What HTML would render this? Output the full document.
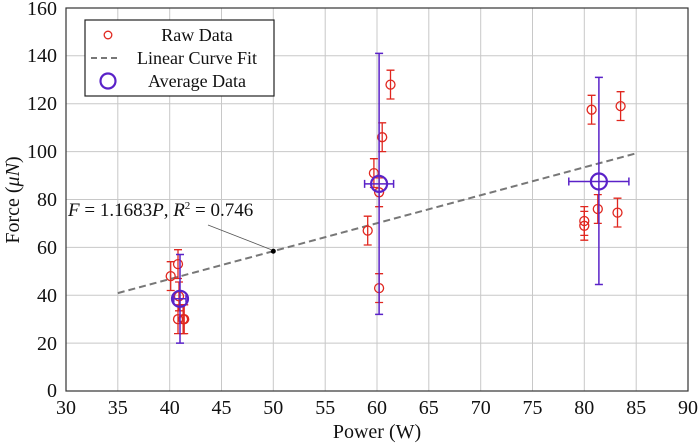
<!DOCTYPE html>
<html><head><meta charset="utf-8"><style>
body{margin:0;background:#fff}
svg{display:block}
text{font-family:"Liberation Serif",serif;fill:#111}
</style></head><body>
<svg width="700" height="443" viewBox="0 0 700 443" xmlns="http://www.w3.org/2000/svg">
<g stroke="#c8c8c8" stroke-width="1">
<line x1="117.8" y1="8" x2="117.8" y2="391"/><line x1="169.7" y1="8" x2="169.7" y2="391"/><line x1="221.5" y1="8" x2="221.5" y2="391"/><line x1="273.3" y1="8" x2="273.3" y2="391"/><line x1="325.2" y1="8" x2="325.2" y2="391"/><line x1="377" y1="8" x2="377" y2="391"/><line x1="428.8" y1="8" x2="428.8" y2="391"/><line x1="480.7" y1="8" x2="480.7" y2="391"/><line x1="532.5" y1="8" x2="532.5" y2="391"/><line x1="584.3" y1="8" x2="584.3" y2="391"/><line x1="636.2" y1="8" x2="636.2" y2="391"/>
<line x1="66" y1="343.1" x2="688" y2="343.1"/><line x1="66" y1="295.2" x2="688" y2="295.2"/><line x1="66" y1="247.4" x2="688" y2="247.4"/><line x1="66" y1="199.5" x2="688" y2="199.5"/><line x1="66" y1="151.6" x2="688" y2="151.6"/><line x1="66" y1="103.7" x2="688" y2="103.7"/><line x1="66" y1="55.8" x2="688" y2="55.8"/>
</g>
<rect x="66" y="8" width="622" height="383" fill="none" stroke="#333" stroke-width="1.2"/>
<g font-size="20" text-anchor="middle">
<text x="66" y="414">30</text><text x="117.8" y="414">35</text><text x="169.7" y="414">40</text><text x="221.5" y="414">45</text><text x="273.3" y="414">50</text><text x="325.2" y="414">55</text><text x="377" y="414">60</text><text x="428.8" y="414">65</text><text x="480.7" y="414">70</text><text x="532.5" y="414">75</text><text x="584.3" y="414">80</text><text x="636.2" y="414">85</text><text x="688" y="414">90</text>
</g>
<g font-size="20" text-anchor="end">
<text x="57" y="397">0</text><text x="57" y="350">20</text><text x="57" y="302">40</text><text x="57" y="254">60</text><text x="57" y="206">80</text><text x="57" y="158">100</text><text x="57" y="110">120</text><text x="57" y="62">140</text><text x="57" y="15">160</text>
</g>
<text x="377" y="438" font-size="20" text-anchor="middle">Power (W)</text>
<text transform="translate(19,200) rotate(-90)" font-size="20" text-anchor="middle">Force (<tspan font-style="italic">μN</tspan>)</text>
<line x1="117.8" y1="293.1" x2="636.2" y2="153.3" stroke="#777" stroke-width="2" stroke-dasharray="7,4"/>
<circle cx="273.3" cy="251.2" r="2.5" fill="#000"/>
<line x1="208" y1="225" x2="272" y2="250" stroke="#555" stroke-width="0.8"/>
<text x="68" y="216" font-size="19" font-style="italic">F <tspan font-style="normal">= 1.1683</tspan>P<tspan font-style="normal">, </tspan>R<tspan font-size="11" dy="-7" font-style="normal">2</tspan><tspan dy="7" font-style="normal"> = 0.746</tspan></text>
<g stroke="#e0271f" stroke-width="1.3" fill="none">
<path d="M170.7 261.7V290.5M166.7 261.7h8M166.7 290.5h8"/><circle cx="170.7" cy="276.1" r="4.5"/>
<path d="M178 249.7V278.5M174 249.7h8M174 278.5h8"/><circle cx="178" cy="264.1" r="4.5"/>
<path d="M179 282V310.8M175 282h8M175 310.8h8"/><circle cx="179" cy="296.4" r="4.5"/>
<path d="M178 304.8V333.6M174 304.8h8M174 333.6h8"/><circle cx="178" cy="319.2" r="4.5"/>
<path d="M184.2 304.8V333.6M180.2 304.8h8M180.2 333.6h8"/><circle cx="184.2" cy="319.2" r="4.5"/>
<path d="M183.1 304.8V333.6M179.1 304.8h8M179.1 333.6h8"/><circle cx="183.1" cy="319.2" r="4.5"/>
<path d="M367.7 216.2V245M363.7 216.2h8M363.7 245h8"/><circle cx="367.7" cy="230.6" r="4.5"/>
<path d="M373.9 158.7V187.5M369.9 158.7h8M369.9 187.5h8"/><circle cx="373.9" cy="173.1" r="4.5"/>
<path d="M379.1 177.9V206.7M375.1 177.9h8M375.1 206.7h8"/><circle cx="379.1" cy="192.3" r="4.5"/>
<path d="M382.2 122.8V151.6M378.2 122.8h8M378.2 151.6h8"/><circle cx="382.2" cy="137.2" r="4.5"/>
<path d="M390.5 70.2V99M386.5 70.2h8M386.5 99h8"/><circle cx="390.5" cy="84.6" r="4.5"/>
<path d="M379.1 273.7V302.5M375.1 273.7h8M375.1 302.5h8"/><circle cx="379.1" cy="288.1" r="4.5"/>
<path d="M591.6 95.3V124.1M587.6 95.3h8M587.6 124.1h8"/><circle cx="591.6" cy="109.7" r="4.5"/>
<path d="M620.6 91.7V120.5M616.6 91.7h8M616.6 120.5h8"/><circle cx="620.6" cy="106.1" r="4.5"/>
<path d="M584.3 206.6V235.4M580.3 206.6h8M580.3 235.4h8"/><circle cx="584.3" cy="221" r="4.5"/>
<path d="M584.3 211.4V240.2M580.3 211.4h8M580.3 240.2h8"/><circle cx="584.3" cy="225.8" r="4.5"/>
<path d="M597.8 194.6V223.4M593.8 194.6h8M593.8 223.4h8"/><circle cx="597.8" cy="209" r="4.5"/>
<path d="M617.5 198.2V227M613.5 198.2h8M613.5 227h8"/><circle cx="617.5" cy="212.6" r="4.5"/>
</g>
<g stroke="#5a22c8" stroke-width="1.5" fill="none">
<path d="M180 254.5V343.1M176 254.5h8M176 343.1h8M173.8 298.8H186M173.8 294.8v8M186 294.8v8"/><circle cx="180" cy="298.8" r="8" stroke-width="2.2"/>
<path d="M379.1 53.4V314.4M375.1 53.4h8M375.1 314.4h8M364.6 183.9H393.6M364.6 179.9v8M393.6 179.9v8"/><circle cx="379.1" cy="183.9" r="8" stroke-width="2.2"/>
<path d="M598.9 77.4V284.5M594.9 77.4h8M594.9 284.5h8M568.8 181.5H628.9M568.8 177.5v8M628.9 177.5v8"/><circle cx="598.9" cy="181.5" r="8" stroke-width="2.2"/>
</g>
<rect x="85" y="20" width="189" height="76" fill="#fff" stroke="#222" stroke-width="1.2"/>
<circle cx="108" cy="35" r="3.8" fill="none" stroke="#e0271f" stroke-width="1.3"/>
<line x1="91" y1="58" x2="121" y2="58" stroke="#777" stroke-width="2" stroke-dasharray="6,4"/>
<circle cx="108" cy="81" r="7.5" fill="none" stroke="#5a22c8" stroke-width="2.2"/>
<g font-size="18" text-anchor="middle">
<text x="197" y="41">Raw Data</text>
<text x="197" y="64">Linear Curve Fit</text>
<text x="197" y="87">Average Data</text>
</g>
</svg>
</body></html>
